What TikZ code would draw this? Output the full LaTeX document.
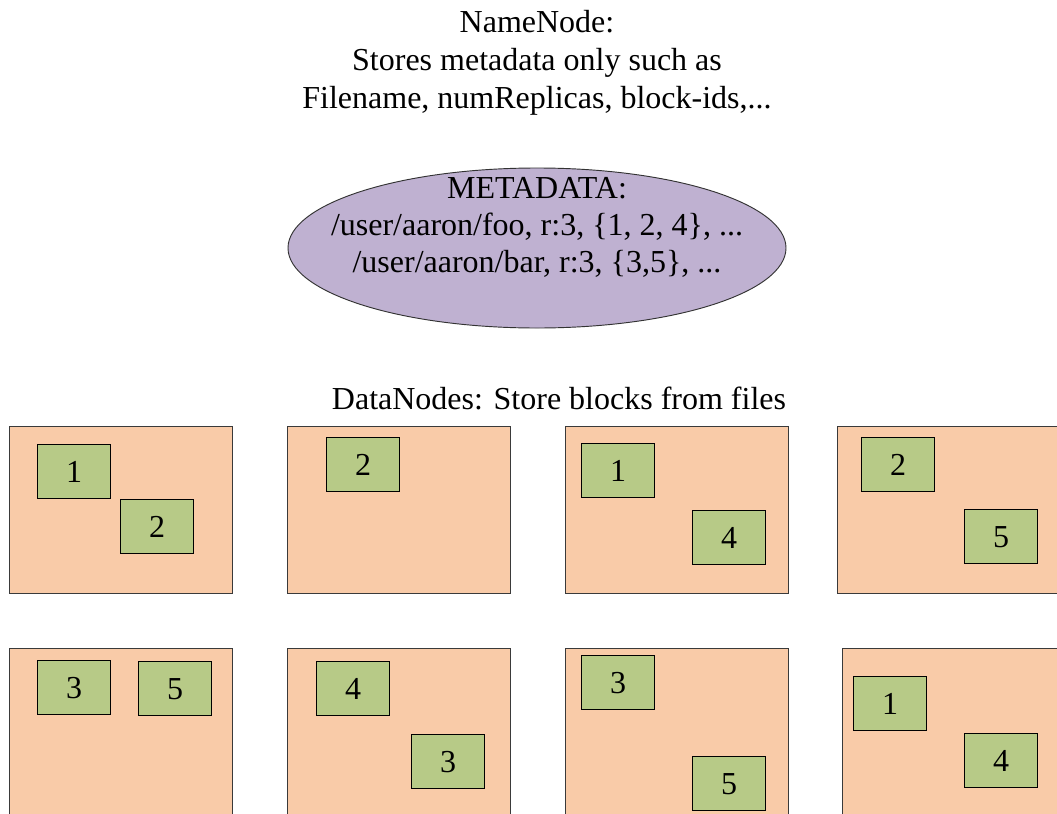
\documentclass[tikz,border=0pt]{standalone}
\usepackage{fontspec}
\setmainfont{Liberation Serif}
\usetikzlibrary{shapes.geometric}

\definecolor{dnfill}{HTML}{F9CBA8}
\definecolor{blkfill}{HTML}{B7CA87}
\definecolor{metafill}{HTML}{BFB1D1}
\definecolor{edge}{HTML}{3A3A3A}

\tikzset{
  txt/.style={inner sep=0pt, anchor=base, font=\fontsize{24pt}{28pt}\selectfont},
  dnode/.style={draw=edge, line width=1.1pt, fill=dnfill, anchor=north west,
    minimum width=167.25pt, minimum height=125.25pt, inner sep=0pt},
  blk/.style={draw=black, line width=1.1pt, fill=blkfill, anchor=north west,
    minimum width=54.75pt, minimum height=40.5pt, inner sep=0pt,
    font=\fontsize{24pt}{28pt}\selectfont},
  meta/.style={ellipse, draw=black!80, line width=0.7pt, fill=metafill,
    minimum width=373.5pt, minimum height=120pt, inner sep=0pt}
}

\begin{document}
\begin{tikzpicture}[x=0.75pt, y=-0.75pt]
\useasboundingbox (0,0) rectangle (1057,814);
\clip (0,0) rectangle (1057,814);

% NameNode caption
\node[txt] (nn1) at (537,32)  {NameNode:};
\node[txt] (nn2) at (537,70)  {Stores metadata only such as};
\node[txt] (nn3) at (537,108) {Filename, numReplicas, block-ids,...};

% metadata store
\node[meta] (meta) at (537,248) {};
\node[txt] (md1) at (537,198) {METADATA:};
\node[txt] (md2) at (537,235) {/user/aaron/foo, r:3, \{1, 2, 4\}, ...};
\node[txt] (md3) at (537,272) {/user/aaron/bar, r:3, \{3,5\}, ...};

% DataNodes caption
\node[txt] (dncap) at (559,409) {DataNodes: Store blocks from files};

% DataNodes, first row
\node[dnode] (dn1) at (9,426) {};
\node[dnode] (dn2) at (287,426) {};
\node[dnode] (dn3) at (565,426) {};
\node[dnode] (dn4) at (837,426) {};

% DataNodes, second row
\node[dnode] (dn5) at (9,648) {};
\node[dnode] (dn6) at (287,648) {};
\node[dnode] (dn7) at (565,648) {};
\node[dnode] (dn8) at (842,648) {};

% blocks held by each DataNode
\node[blk] (b1a) at (37,444)  {1};
\node[blk] (b1b) at (120,499) {2};

\node[blk] (b2a) at (326,437) {2};

\node[blk] (b3a) at (581,443) {1};
\node[blk] (b3b) at (692,510) {4};

\node[blk] (b4a) at (861,437) {2};
\node[blk] (b4b) at (964,509) {5};

\node[blk] (b5a) at (37,660)  {3};
\node[blk] (b5b) at (138,661) {5};

\node[blk] (b6a) at (316,661) {4};
\node[blk] (b6b) at (411,734) {3};

\node[blk] (b7a) at (581,655) {3};
\node[blk] (b7b) at (692,756) {5};

\node[blk] (b8a) at (853,676) {1};
\node[blk] (b8b) at (964,733) {4};
\end{tikzpicture}
\end{document}
